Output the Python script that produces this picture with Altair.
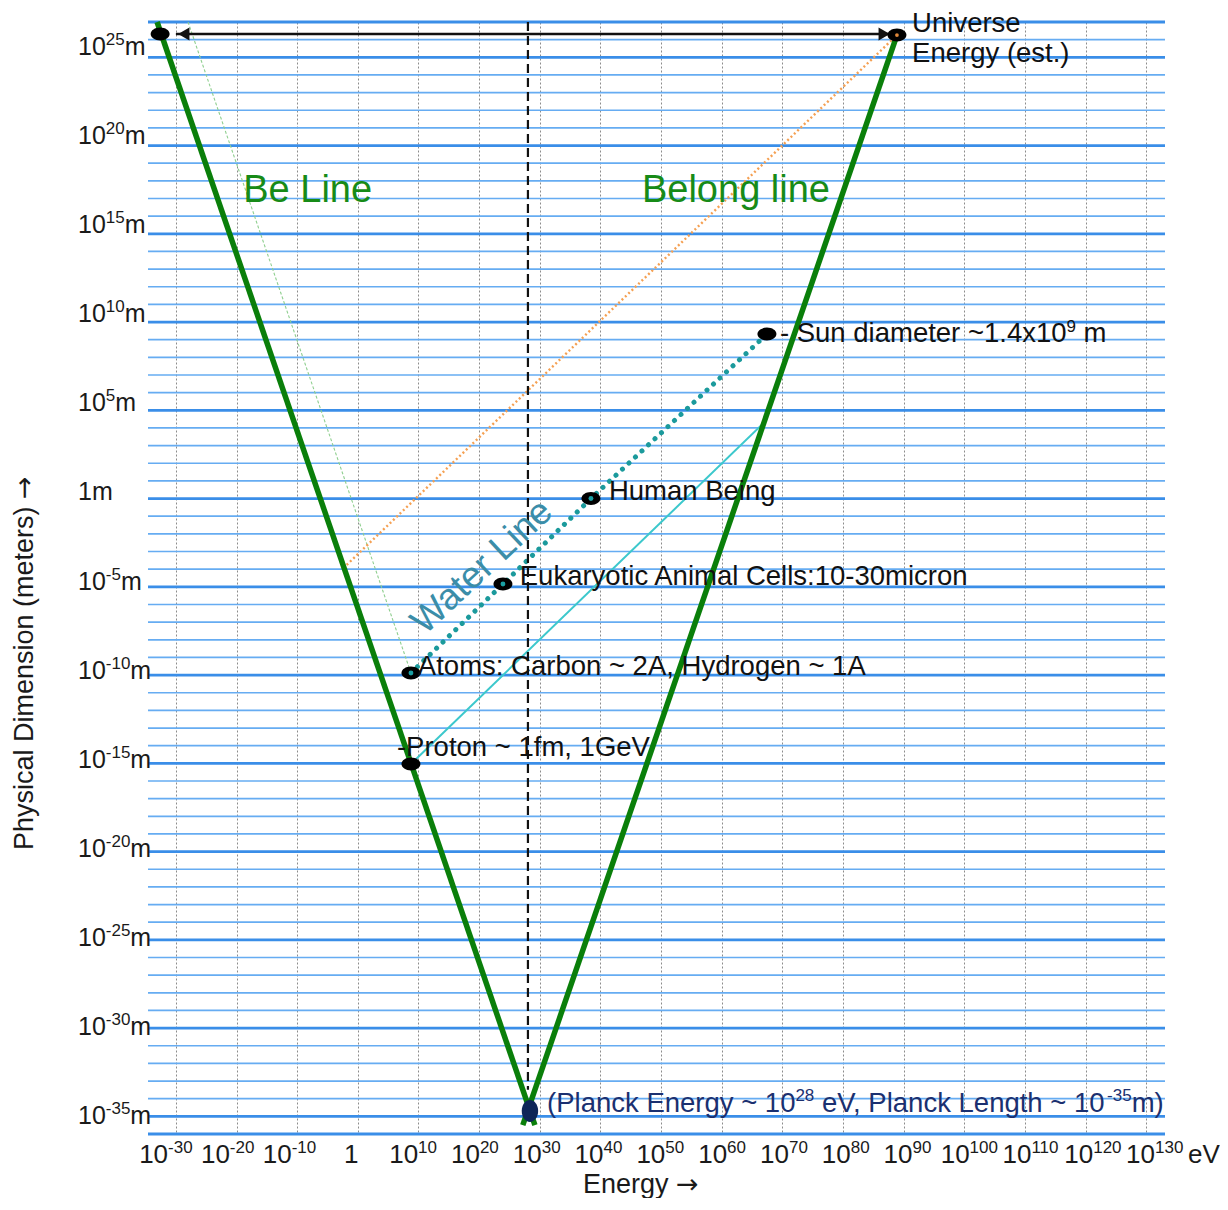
import pandas as pd
import altair as alt

FONT = "Liberation Sans"
ARROW_FONT = "DejaVu Sans"

# ---------------- data ----------------
# x = log10(Energy / eV), y = log10(Length / m)
grid_decades = list(range(-36, 28))
major_L = list(range(-35, 26, 5))
minor_L = [d for d in grid_decades if d % 5 != 0]
edge_L = [-36, 27]
x_ticks = list(range(-30, 131, 10))
x_tick_labels = ["10^{-30}", "10^{-20}", "10^{-10}", "1", "10^{10}", "10^{20}", "10^{30}",
                 "10^{40}", "10^{50}", "10^{60}", "10^{70}", "10^{80}", "10^{90}",
                 "10^{100}", "10^{110}", "10^{120}", "10^{130}"]
y_tick_labels = ["10^{-35}m", "10^{-30}m", "10^{-25}m", "10^{-20}m", "10^{-15}m",
                 "10^{-10}m", "10^{-5}m", "1m", "10^{5}m", "10^{10}m", "10^{15}m",
                 "10^{20}m", "10^{25}m"]
x_unit = "eV"
x_title = "Energy"
y_title = "Physical Dimension (meters)"

be_E = [-33.1, 29.2]
be_L = [27.0, -35.5]
belong_E = [27.2, 88.9]
belong_L = [-35.5, 26.26]
center_E = [28.05, 28.05]
center_L = [27.0, -33.5]
water_E = [8.76, 23.93, 38.44, 67.46]
water_L = [-9.88, -4.84, 0.0, 9.32]
cyan_E = [8.76, 67.1]
cyan_L = [-15.04, 4.34]
orange_E = [-1.84, 88.9]
orange_L = [-3.76, 26.26]
thin_E = [8.76, -28.0]
thin_L = [-9.88, 27.0]
arrow_E = [-30.0, 88.07]
arrow_L = [26.32, 26.32]
arrowhead_E = [-28.7, 86.8]
arrowhead_L = [26.32, 26.32]

dot_names = ["Universe low", "Universe", "Sun", "Human", "Eukaryotic", "Atoms", "Proton"]
dot_E = [-32.6, 88.9, 67.46, 38.44, 23.93, 8.76, 8.76]
dot_L = [26.32, 26.26, 9.32, 0.0, -4.84, -9.88, -15.04]
water_dot_E = [8.76, 23.93, 38.44]
water_dot_L = [-9.88, -4.84, 0.0]
planck_E = [28.38]
planck_L = [-34.7]

label_texts = ["Universe", "Energy (est.)", "- Sun diameter ~1.4x10^{9} m", "Human Being",
               "Eukaryotic Animal Cells:10-30micron", "Atoms: Carbon ~ 2A, Hydrogen ~ 1A",
               "-Proton ~ 1fm, 1GeV"]
label_E = [91.4, 91.4, 69.6, 41.4, 26.7, 9.9, 6.45]
label_L = [26.89, 25.2, 9.32, 0.37, -4.44, -9.54, -14.13]

green_texts = ["Be Line", "Belong line"]
green_E = [-18.9, 46.85]
green_L = [17.4, 17.4]

water_text = ["Water Line"]
water_text_E = [20.5]
water_text_L = [-3.88]

planck_text = ["(Planck Energy ~ 10^{28} eV, Planck Length ~ 10^{-35}m)"]
planck_text_E = [31.2]
planck_text_L = [-34.3]

# ---------------- layout helpers ----------------
PX0, PY0 = 148, 22          # page pixel of the plot's top-left corner
W_PLOT, H_PLOT = 1017, 1112
E_DOM = [-34.6, 133.1]
L_DOM = [-36, 27]


def px2E(px):
    return E_DOM[0] + (px - PX0) * (E_DOM[1] - E_DOM[0]) / W_PLOT


def py2L(py):
    return L_DOM[1] - (py - PY0) * (L_DOM[1] - L_DOM[0]) / H_PLOT


def E2px(E):
    return PX0 + (E - E_DOM[0]) * W_PLOT / (E_DOM[1] - E_DOM[0])


def L2py(L):
    return PY0 + (L_DOM[1] - L) * H_PLOT / (L_DOM[1] - L_DOM[0])


# Arial / Liberation Sans advance widths (per 1000 em)
AW = {" ": 278, "(": 333, ")": 333, ",": 278, "-": 333, ".": 278, ":": 278, "~": 584,
      "A": 667, "B": 667, "C": 722, "D": 722, "E": 667, "G": 778, "H": 722, "L": 556,
      "P": 667, "S": 667, "U": 722, "V": 667, "W": 944,
      "a": 556, "b": 556, "c": 500, "d": 556, "e": 556, "f": 278, "g": 556, "h": 556,
      "i": 222, "k": 500, "l": 222, "m": 833, "n": 556, "o": 556, "r": 333, "s": 500,
      "t": 278, "u": 556, "v": 500, "x": 500, "y": 500}


def tw(s, size):
    return sum(AW.get(c, 556) for c in s) * size / 1000.0


def parse(label):
    segs, buf, i = [], "", 0
    while i < len(label):
        if label.startswith("^{", i):
            if buf:
                segs.append((buf, False))
                buf = ""
            j = label.index("}", i)
            segs.append((label[i + 2:j], True))
            i = j + 1
        else:
            buf += label[i]
            i += 1
    if buf:
        segs.append((buf, False))
    return segs


def rich_rows(label, ax, ay, size, sup_size, align="left"):
    segs = parse(label)
    widths = [tw(t, sup_size if s else size) for t, s in segs]
    x = ax - (sum(widths) / 2.0 if align == "center" else 0.0)
    rows = []
    for (t, s), w in zip(segs, widths):
        lead = len(t) - len(t.lstrip(" "))
        tt = t.strip(" ")
        if tt:
            rows.append({"E": px2E(x + tw(" " * lead, sup_size if s else size)),
                         "L": py2L(ay), "t": tt, "sup": s})
        x += w
    return rows


# ---------------- chart ----------------
xs = alt.Scale(domain=E_DOM, nice=False, zero=False)
ys = alt.Scale(domain=L_DOM, nice=False, zero=False)
xaxis = alt.Axis(values=x_ticks, labels=False, ticks=False, tickSize=0, domain=False,
                 grid=True, gridColor="#8c8c8c", gridDash=[2, 2], gridWidth=1, title=None)


def X():
    return alt.X("E:Q", scale=xs, axis=xaxis)


def Y():
    return alt.Y("L:Q", scale=ys, axis=None)


def df_of(E, L):
    return pd.DataFrame({"E": E, "L": L, "o": list(range(len(E)))})


def line(E, L, color, width, dash=None, cap="butt"):
    kw = dict(color=color, strokeWidth=width, strokeCap=cap)
    if dash:
        kw["strokeDash"] = dash
    return alt.Chart(df_of(E, L)).mark_line(**kw).encode(x=X(), y=Y(), order="o:Q")


def text_layers(rows, size, sup_size, color, sup_dy, font=FONT, angle=None):
    df = pd.DataFrame(rows)
    out = []
    for is_sup in (False, True):
        part = df[df["sup"] == is_sup].drop(columns=["sup"])
        if len(part) == 0:
            continue
        kw = dict(align="left", baseline="middle", font=font, color=color,
                  fontSize=sup_size if is_sup else size)
        if is_sup:
            kw["dy"] = sup_dy
        if angle is not None:
            kw["angle"] = angle
        out.append(alt.Chart(part).mark_text(**kw).encode(x=X(), y=Y(), text="t:N"))
    return out


minor_rules = alt.Chart(pd.DataFrame({"L": minor_L})).mark_rule(
    color="#66acf2", strokeWidth=1.7).encode(y=Y())
major_rules = alt.Chart(pd.DataFrame({"L": major_L + edge_L})).mark_rule(
    color="#3a8ee8", strokeWidth=2.8).encode(y=Y())

thin_green = line(thin_E, thin_L, "#8fcf8f", 1.1, dash=[3, 2])
orange = line(orange_E, orange_L, "#f5a052", 2.4, dash=[2, 2.6])
cyan = line(cyan_E, cyan_L, "#3cc8cc", 2)
water = line(water_E, water_L, "#1b9a9c", 5, dash=[0.1, 8.8], cap="round")
be = line(be_E, be_L, "#0a7f0a", 5.5)
belong = line(belong_E, belong_L, "#0a7f0a", 5.5)
center = line(center_E, center_L, "#111111", 2.2, dash=[9, 5])
arrow = line(arrow_E, arrow_L, "#111111", 2.5)

ELLIPSE = "M -1 0 A 1 0.68 0 1 0 1 0 A 1 0.68 0 1 0 -1 0 Z"
VELLIPSE = "M 0 -1 A 0.75 1 0 1 0 0 1 A 0.75 1 0 1 0 0 -1 Z"

heads = alt.Chart(pd.DataFrame({"E": arrowhead_E, "L": arrowhead_L,
                                "s": ["triangle-left", "triangle-right"]})).mark_point(
    filled=True, color="#111111", size=170, opacity=1).encode(
    shape=alt.Shape("s:N", scale=None), x=X(), y=Y())
dots = alt.Chart(pd.DataFrame({"name": dot_names, "E": dot_E, "L": dot_L})).mark_point(
    shape=ELLIPSE, filled=True, color="#000000", size=360, opacity=1).encode(x=X(), y=Y())
water_dots = alt.Chart(df_of(water_dot_E, water_dot_L)).mark_point(
    shape="circle", filled=True, color="#1aa0a4", size=24, opacity=1).encode(x=X(), y=Y())
uni_center = alt.Chart(df_of([88.9], [26.26])).mark_point(
    shape="circle", filled=True, color="#e0883a", size=14, opacity=1).encode(x=X(), y=Y())
planck = alt.Chart(df_of(planck_E, planck_L)).mark_point(
    shape=VELLIPSE, filled=True, color="#0e2658", size=480, opacity=1).encode(x=X(), y=Y())

# --- tick labels (rich text with superscripts) ---
XLAB_Y = 1155
xr = []
gx0 = E2px(x_ticks[0])
for v, lab in zip(x_ticks, x_tick_labels):
    cx = gx0 - 10 + (E2px(v) - gx0) * 1.0191
    xr += rich_rows(lab, cx, XLAB_Y, 26, 17, align="center")
xr += rich_rows(x_unit, 1188, XLAB_Y, 26, 17)
yr = []
gy0 = L2py(major_L[0])
for v, lab in zip(major_L, y_tick_labels):
    cy = gy0 - (gy0 - L2py(v)) * 1.01
    yr += rich_rows(lab, 78, cy, 25, 17)

ann = []
for t, e, l in zip(label_texts, label_E, label_L):
    ann += rich_rows(t, E2px(e), L2py(l), 27.5, 17)
pl = []
for t, e, l in zip(planck_text, planck_text_E, planck_text_L):
    pl += rich_rows(t, E2px(e), L2py(l), 27.5, 17)

green_labels = alt.Chart(pd.DataFrame({"t": green_texts, "E": green_E, "L": green_L})).mark_text(
    align="left", baseline="middle", fontSize=38, font=FONT, color="#178b17").encode(
    text="t:N", x=X(), y=Y())
water_label = alt.Chart(pd.DataFrame({"t": water_text, "E": water_text_E,
                                      "L": water_text_L})).mark_text(
    align="center", baseline="middle", fontSize=37, font=FONT, color="#3b8da8",
    angle=317).encode(text="t:N", x=X(), y=Y())

# --- axis titles ---
XT_Y = 1185
xt = alt.Chart(pd.DataFrame({"t": [x_title], "E": [px2E(583)], "L": [py2L(XT_Y)]})).mark_text(
    align="left", baseline="middle", fontSize=27, font=FONT, color="#1a1a1a").encode(
    text="t:N", x=X(), y=Y())
xt_arrow = alt.Chart(pd.DataFrame({"t": ["→"], "E": [px2E(583 + tw(x_title + " ", 27))],
                                   "L": [py2L(XT_Y)]})).mark_text(
    align="left", baseline="middle", fontSize=27, font=ARROW_FONT, color="#1a1a1a").encode(
    text="t:N", x=X(), y=Y())
yt = alt.Chart(pd.DataFrame({"t": [y_title], "E": [px2E(25)], "L": [py2L(850)]})).mark_text(
    align="left", baseline="middle", fontSize=27, font=FONT, color="#1a1a1a",
    angle=270).encode(text="t:N", x=X(), y=Y())
yt_arrow = alt.Chart(pd.DataFrame({"t": ["→"], "E": [px2E(25)],
                                   "L": [py2L(850 - tw(y_title + " ", 27))]})).mark_text(
    align="left", baseline="middle", fontSize=27, font=ARROW_FONT, color="#1a1a1a",
    angle=270).encode(text="t:N", x=X(), y=Y())

layers = [minor_rules, major_rules, thin_green, orange, cyan, water, belong, be, center,
          arrow, heads, dots, water_dots, uni_center, planck]
layers += text_layers(xr, 26, 17, "#1a1a1a", -7)
layers += text_layers(yr, 25, 17, "#1a1a1a", -7)
layers += text_layers(ann, 27.5, 17, "#111111", -7.5)
layers += text_layers(pl, 27.5, 17, "#1b3070", -7.5)
layers += [green_labels, water_label, xt, xt_arrow, yt, yt_arrow]

chart = alt.layer(*layers).properties(
    width=W_PLOT, height=H_PLOT,
    autosize=alt.AutoSizeParams(type="none"),
    padding={"left": 140, "top": 14, "right": 55, "bottom": 64},
).configure(font=FONT).configure_view(strokeWidth=0)

chart.save("out.html", embed_options={"renderer": "svg", "actions": False})
